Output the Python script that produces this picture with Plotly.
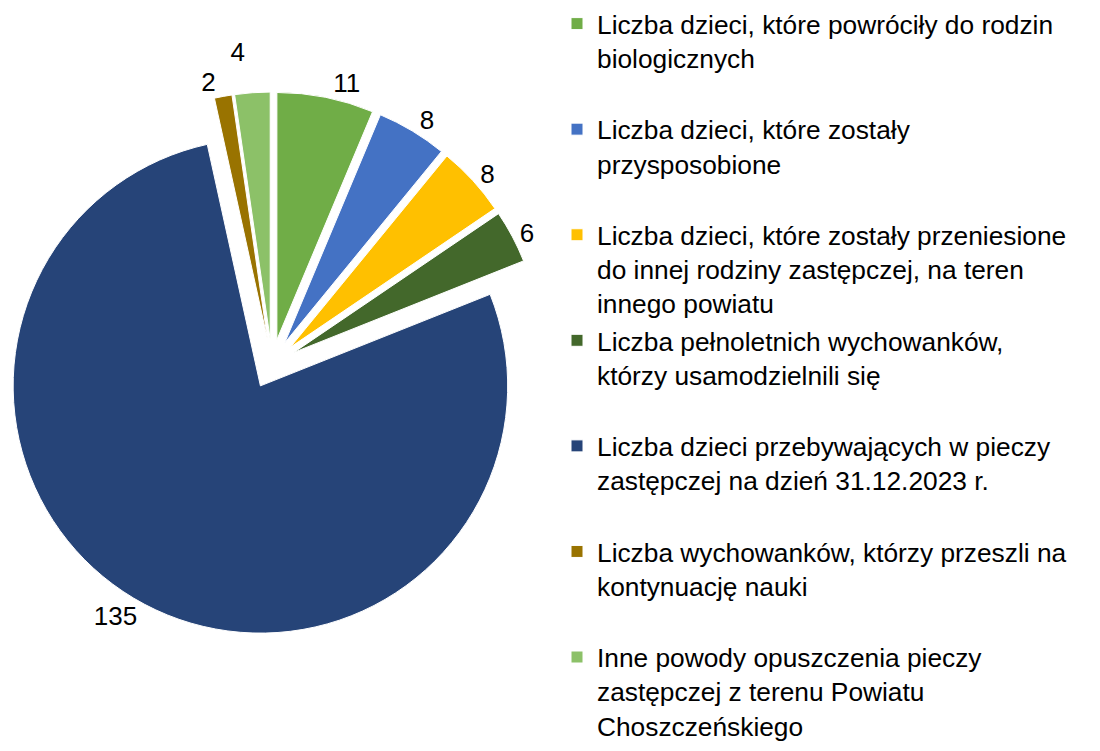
import plotly.graph_objects as go

labels = [
    "Liczba dzieci, które powróciły do rodzin<br>biologicznych<br> ",
    "Liczba dzieci, które zostały<br>przysposobione<br> ",
    "Liczba dzieci, które zostały przeniesione<br>do innej rodziny zastępczej, na teren<br>innego powiatu",
    "Liczba pełnoletnich wychowanków,<br>którzy usamodzielnili się<br> ",
    "Liczba dzieci przebywających w pieczy<br>zastępczej na dzień 31.12.2023 r.<br> ",
    "Liczba wychowanków, którzy przeszli na<br>kontynuację nauki<br> ",
    "Inne powody opuszczenia pieczy<br>zastępczej z terenu Powiatu<br>Choszczeńskiego",
]
values = [11, 8, 8, 6, 135, 2, 4]
colors = ["#70AD47", "#4472C4", "#FFC000", "#43682B", "#264478", "#997300", "#8CC168"]

W, H = 1100, 751
SW, SH = 544, 550  # pie box size in px
CX, CY = 272, 364

fig = go.Figure(go.Pie(
    labels=labels,
    values=values,
    sort=False,
    direction="clockwise",
    rotation=0,
    pull=[0.1] * len(values),
    marker=dict(colors=colors, line=dict(color="white", width=1)),
    textinfo="value",
    textposition="outside",
    outsidetextfont=dict(family="Liberation Sans, Arial, sans-serif", size=26, color="#000000"),
    hoverinfo="label+value",
    domain=dict(x=[max(0, (CX - SW / 2) / W), (CX + SW / 2) / W],
                y=[(H - CY - SH / 2) / H, (H - CY + SH / 2) / H]),
))

fig.update_layout(
    width=W, height=H,
    margin=dict(l=0, r=0, t=0, b=0, autoexpand=False),
    paper_bgcolor="white",
    plot_bgcolor="white",
    font=dict(family="Liberation Sans, Arial, sans-serif", color="#000000"),
    legend=dict(
        x=557 / W, xanchor="left",
        y=1, yanchor="top",
        valign="top",
        font=dict(family="Liberation Sans, Arial, sans-serif", size=26.3, color="#000000"),
        bgcolor="rgba(0,0,0,0)",
        borderwidth=0,
    ),
    showlegend=True,
)

post = (
    "document.body.style.margin='0';"
    "var s=document.createElement('style');"
    "s.textContent='.textline{display:none !important;}';"
    "document.head.appendChild(s);"
)

fig.write_html("out.html", post_script=post, config={"displayModeBar": False})
